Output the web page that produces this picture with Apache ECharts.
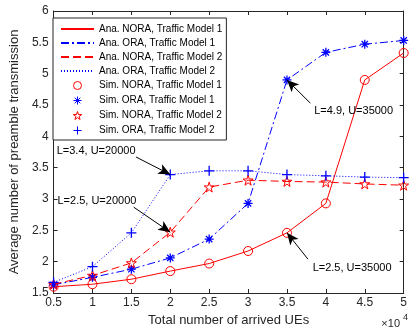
<!DOCTYPE html>
<html><head><meta charset="utf-8">
<script src="https://cdn.jsdelivr.net/npm/echarts@6/dist/echarts.min.js"></script>
<style>html,body{margin:0;padding:0;background:#fff}#c{width:410px;height:334px}</style>
</head><body><div id="c"></div>
<script>
// ---- data ----
const xValues = [0.5, 1, 1.5, 2, 2.5, 3, 3.5, 4, 4.5, 5]; // x 10^4 UEs
const noraTM1 = [1.60, 1.64, 1.72, 1.85, 1.97, 2.17, 2.46, 2.93, 4.90, 5.33];
const oraTM1  = [1.63, 1.75, 1.88, 2.06, 2.36, 2.93, 4.90, 5.34, 5.47, 5.53];
const noraTM2 = [1.64, 1.78, 1.98, 2.47, 3.19, 3.30, 3.28, 3.27, 3.24, 3.22];
const oraTM2  = [1.67, 1.92, 2.46, 3.39, 3.45, 3.45, 3.39, 3.37, 3.35, 3.34];
const xTickLabels = ['0.5','1','1.5','2','2.5','3','3.5','4','4.5','5'];
const yTickLabels = ['1.5','2','2.5','3','3.5','4','4.5','5','5.5','6'];
const seriesNames = [
  'Ana. NORA, Traffic Model 1', 'Ana. ORA, Traffic Model 1',
  'Ana. NORA, Traffic Model 2', 'Ana. ORA, Traffic Model 2',
  'Sim. NORA, Traffic Model 1', 'Sim. ORA, Traffic Model 1',
  'Sim. NORA, Traffic Model 2', 'Sim. ORA, Traffic Model 2'
];
const annotationTexts = ['L=3.4, U=20000', 'L=2.5, U=20000', 'L=4.9, U=35000', 'L=2.5, U=35000'];

// ---- layout / style config ----
const FONT = 'Liberation Sans, Arial, sans-serif';
const AX = '#262626';
const RED = '#ff0000', BLUE = '#0000ff';
const pts = arr => xValues.map((x, i) => [x, arr[i]]);
const STAR = 'path://M10,0L12.25,6.91L19.51,6.91L13.63,11.18L15.88,18.09L10,13.82L4.12,18.09L6.37,11.18L0.49,6.91L7.75,6.91Z';
const ASTER = 'path://M0,5L10,5M5,0L5,10M1.5,1.5L8.5,8.5M8.5,1.5L1.5,8.5';
const PLUS = 'path://M0,5L10,5M5,0L5,10';

// annotation placement (data coords): text anchor (left-middle), arrow start, arrow target
const annPlace = [
  {text:[0.54, 3.77], from:[1.56, 3.67], to:[2, oraTM2[3]]},
  {text:[0.55, 2.965], from:[1.53, 2.87], to:[2, noraTM2[3]]},
  {text:[3.85, 4.40], from:[3.80, 4.53], to:[3.5, oraTM1[6]]},
  {text:[3.83, 1.90], from:[3.77, 2.04], to:[3.5, noraTM1[6]]}
];

function lineSeries(name, arr, color, type) {
  return {name, type:'line', data: pts(arr), symbol:'none', showSymbol:false,
    lineStyle:{color, width:1, type}, itemStyle:{color}, z:2, silent:true};
}
function markerSeries(name, arr, color, symbol, size, bw) {
  return {name, type:'scatter', data: pts(arr), symbol, symbolSize:size,
    itemStyle:{color:'none', borderColor:color, borderWidth:bw, opacity:1}, z:3, silent:true};
}

const chart = echarts.init(document.getElementById('c'), null, {renderer:'canvas'});
const axisCommon = {
  axisLine:{show:true, lineStyle:{color:AX, width:1}},
  axisTick:{show:true, inside:true, length:4, lineStyle:{color:AX}},
  splitLine:{show:false}
};
chart.setOption({
  animation:false,
  backgroundColor:'#fff',
  grid:{left:45, right:2, top:11, bottom:41, containLabel:false},
  xAxis:[
    Object.assign({type:'value', min:0.5, max:5, interval:0.5, position:'bottom',
      name:'Total number of arrived UEs', nameLocation:'middle', nameGap:21,
      nameTextStyle:{fontSize:13, color:AX, fontFamily:FONT},
      axisLabel:{margin:4, fontSize:12, color:AX, fontFamily:FONT,
        formatter:v => xTickLabels[Math.round((v - 0.5) / 0.5)] }}, axisCommon),
    Object.assign({type:'value', min:0.5, max:5, interval:0.5, position:'top',
      axisLabel:{show:false}}, axisCommon)
  ],
  yAxis:[
    Object.assign({type:'value', min:1.5, max:6, interval:0.5, position:'left',
      name:'Average number of preamble transmission', nameLocation:'middle', nameGap:25,
      nameTextStyle:{fontSize:13, color:AX, fontFamily:FONT},
      axisLabel:{margin:5, fontSize:12, color:AX, fontFamily:FONT,
        formatter:v => yTickLabels[Math.round((v - 1.5) / 0.5)] }}, axisCommon),
    Object.assign({type:'value', min:1.5, max:6, interval:0.5, position:'right',
      axisLabel:{show:false}}, axisCommon)
  ],
  legend:{
    left:53, top:18, orient:'vertical', itemWidth:33, itemHeight:8, itemGap:2,
    padding:[5,4,3,7], borderColor:AX, borderWidth:1, backgroundColor:'#fff',
    textStyle:{fontSize:10, lineHeight:12, color:'#000', fontFamily:FONT},
    data: seriesNames.map((n, i) => i < 4
      ? {name:n, itemStyle:{color:'rgba(0,0,0,0)', borderColor:'rgba(0,0,0,0)', borderWidth:0, opacity:0}}
      : {name:n, itemStyle:{color:'none', borderWidth:1}}),
    selectedMode:false
  },
  series:[
    lineSeries(seriesNames[0], noraTM1, RED, 'solid'),
    lineSeries(seriesNames[1], oraTM1, BLUE, [8,3,2,3]),
    lineSeries(seriesNames[2], noraTM2, RED, [8,4]),
    lineSeries(seriesNames[3], oraTM2, BLUE, [1,2]),
    markerSeries(seriesNames[4], noraTM1, RED, 'circle', 9, 1),
    markerSeries(seriesNames[5], oraTM1, BLUE, ASTER, 9, 1.3),
    markerSeries(seriesNames[6], noraTM2, RED, STAR, 10, 1),
    markerSeries(seriesNames[7], oraTM2, BLUE, PLUS, 10, 1.3),
    {
      name:'annotations', type:'line', data:[], silent:true, z:5,
      markLine:{silent:true, symbol:['none','arrow'], symbolSize:[8,12], animation:false,
        lineStyle:{color:'#000', width:1, type:'solid'}, label:{show:false},
        emphasis:{disabled:true},
        data: annPlace.map(a => [{coord:a.from}, {coord:a.to}])}
    }
  ]
});
// annotation texts placed through the axes' scales
const annGraphics = annPlace.map((a, i) => {
  const p = chart.convertToPixel({xAxisIndex:0, yAxisIndex:0}, a.text);
  return {type:'text', x:p[0], y:p[1], z:10, silent:true,
    style:{text:annotationTexts[i], fontSize:11, fill:'#000', fontFamily:FONT,
      align:'left', verticalAlign:'middle'}};
});
chart.setOption({graphic: [
  {type:'text', right:10, bottom:5, style:{text:'×10', fontSize:11, fill:AX, fontFamily:FONT}},
  {type:'text', right:2, bottom:12, style:{text:'4', fontSize:9, fill:AX, fontFamily:FONT}}
].concat(annGraphics)});
</script></body></html>
